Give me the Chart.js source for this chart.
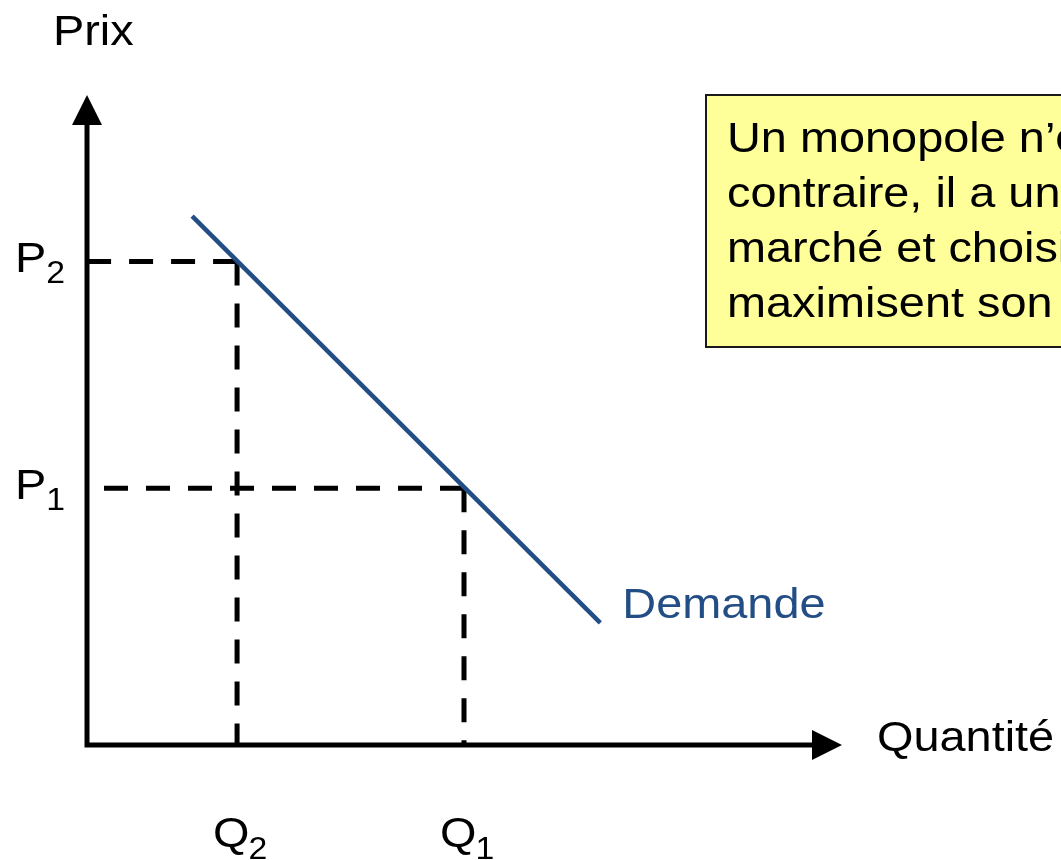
<!DOCTYPE html>
<html lang="fr">
<head>
<meta charset="utf-8">
<title>Monopole - Demande</title>
<script src="https://cdn.jsdelivr.net/npm/chart.js@4/dist/chart.umd.min.js"></script>
<style>
  html, body { margin: 0; padding: 0; background: #ffffff; overflow: hidden; }
  canvas { display: block; }
</style>
</head>
<body>
<canvas id="grafico-monopole" width="1061" height="860"></canvas>
<script>
// Datos (unidades arbitrarias, ejes de 0 a 10)
const demandaQ = [1.45, 7.08];
const demandaP = [8.53, 1.97];
const cantidades = [2.07, 5.2];   // Q2, Q1
const precios = [7.8, 4.14];      // P2, P1
const etiquetasQ = ["2", "1"];
const etiquetasP = ["2", "1"];
const textoCuadro = [
  "Un monopole n’est pas un preneur de prix. Au",
  "contraire, il a un pouvoir sur le prix du",
  "marché et choisit le prix et la quantité qui",
  "maximisent son profit."
];

(function () {
  "use strict";

  const azul = "#234E85";
  const fuente = '"Liberation Sans", Arial, sans-serif';
  const estirar = 1.09; // el texto original está un poco ensanchado

  // Texto con estiramiento horizontal, devuelve el ancho dibujado
  function texto(ctx, str, x, y, size, color) {
    ctx.save();
    ctx.font = size + "px " + fuente;
    ctx.fillStyle = color || "#000000";
    ctx.textBaseline = "alphabetic";
    ctx.textAlign = "left";
    ctx.translate(x, y);
    ctx.scale(estirar, 1);
    ctx.fillText(str, 0, 0);
    const w = ctx.measureText(str).width * estirar;
    ctx.restore();
    return w;
  }

  function flecha(ctx, x1, y1, x2, y2, x3, y3) {
    ctx.beginPath();
    ctx.moveTo(x1, y1);
    ctx.lineTo(x2, y2);
    ctx.lineTo(x3, y3);
    ctx.closePath();
    ctx.fill();
  }

  // Ejes con flechas, etiquetas y el cuadro amarillo
  const decoracion = {
    id: "decoracion",
    afterDatasetsDraw(chart) {
      const ctx = chart.ctx;
      const sx = chart.scales.x;
      const sy = chart.scales.y;
      const x0 = sx.getPixelForValue(0);
      const y0 = sy.getPixelForValue(0);
      const xMax = sx.getPixelForValue(sx.max);
      const yMax = sy.getPixelForValue(sy.max);

      ctx.save();
      ctx.strokeStyle = "#000000";
      ctx.fillStyle = "#000000";
      ctx.lineWidth = 5;
      ctx.lineCap = "butt";
      ctx.beginPath();
      ctx.moveTo(x0, y0 + 2.5);
      ctx.lineTo(x0, yMax);
      ctx.moveTo(x0 - 2.5, y0);
      ctx.lineTo(xMax, y0);
      ctx.stroke();
      flecha(ctx, x0 - 15, yMax, x0, yMax - 30, x0 + 15, yMax);
      flecha(ctx, xMax, y0 - 15, xMax + 30, y0, xMax, y0 + 15);
      ctx.restore();

      // Títulos de los ejes
      texto(ctx, "Prix", x0 - 34, yMax - 80, 43);
      texto(ctx, "Quantité", xMax + 65, y0 + 6, 43);

      // P2, P1
      precios.forEach((p, i) => {
        const py = sy.getPixelForValue(p);
        const w = texto(ctx, "P", x0 - 72, py + 11, 43);
        texto(ctx, etiquetasP[i], x0 - 72 + w, py + 22, 31);
      });

      // Q2, Q1
      cantidades.forEach((q, i) => {
        const qx = sx.getPixelForValue(q);
        const w = texto(ctx, "Q", qx - 24, y0 + 102, 43);
        texto(ctx, etiquetasQ[i], qx - 25 + w, y0 + 114, 31);
      });

      // Etiqueta de la curva
      const fx = sx.getPixelForValue(demandaQ[1]);
      const fy = sy.getPixelForValue(demandaP[1]);
      texto(ctx, "Demande", fx + 22, fy - 5, 43, azul);

      // Cuadro de texto (cortado por el borde derecho)
      ctx.save();
      ctx.fillStyle = "#FFFF99";
      ctx.fillRect(706, 95, 420, 252);
      ctx.strokeStyle = "#1a1a1a";
      ctx.lineWidth = 2;
      ctx.strokeRect(706, 95, 420, 252);
      ctx.restore();
      textoCuadro.forEach((linea, i) => {
        texto(ctx, linea, 727, 152 + i * 55, 43);
      });
    },
  };

  const punteada = {
    borderColor: "#000000",
    borderWidth: 5,
    borderDash: [24, 18],
    borderCapStyle: "butt",
    pointRadius: 0,
    showLine: true,
    clip: false,
  };

  const datasets = [
    {
      label: "Demande",
      data: demandaQ.map((q, i) => ({ x: q, y: demandaP[i] })),
      borderColor: azul,
      borderWidth: 4.5,
      pointRadius: 0,
      showLine: true,
      clip: false,
    },
  ];

  // Líneas punteadas desde el punto de la curva hacia cada eje
  cantidades.forEach((q, i) => {
    const p = precios[i];
    datasets.push(Object.assign({}, punteada, { data: [{ x: q, y: p }, { x: 0, y: p }] }));
    datasets.push(Object.assign({}, punteada, { data: [{ x: q, y: p }, { x: q, y: 0 }] }));
  });

  const canvas = document.getElementById("grafico-monopole");
  new Chart(canvas.getContext("2d"), {
    type: "scatter",
    data: { datasets: datasets },
    options: {
      responsive: false,
      animation: false,
      devicePixelRatio: 1,
      layout: { padding: { left: 87, right: 249, top: 125, bottom: 115 } },
      plugins: {
        legend: { display: false },
        tooltip: { enabled: false },
      },
      scales: {
        x: { type: "linear", min: 0, max: 10, display: false },
        y: { type: "linear", min: 0, max: 10, display: false },
      },
    },
    plugins: [decoracion],
  });
})();
</script>
</body>
</html>
